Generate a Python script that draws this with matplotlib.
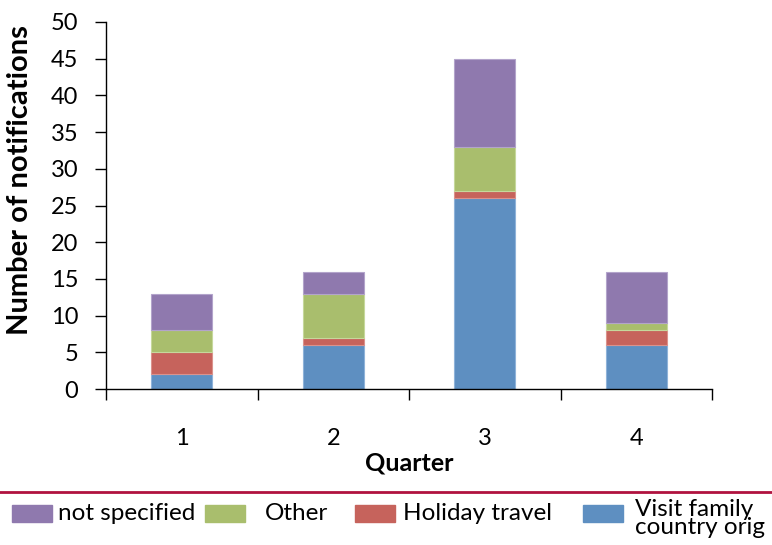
import matplotlib
matplotlib.use("Agg")
import matplotlib.pyplot as plt
from matplotlib.patches import Rectangle
from matplotlib.lines import Line2D
import numpy as np

quarters = ["1", "2", "3", "4"]
visit_family = [2, 6, 26, 6]
holiday_travel = [3, 1, 1, 2]
other = [3, 6, 6, 1]
not_specified = [5, 3, 12, 7]

series_names = ["Visit family\ncountry orig", "Holiday travel", "Other", "not specified"]
series_values = [visit_family, holiday_travel, other, not_specified]
colors = ["#5E8FC1", "#C6635C", "#A9BE6D", "#8F79AE"]
edges = ["#8FB3D9", "#DB928C", "#C6D89C", "#B3A4CB"]

yticks = list(range(0, 51, 5))

plt.rcParams['font.family'] = ['Lato', 'DejaVu Sans']

fig = plt.figure(figsize=(7.72, 5.45), dpi=100)
ax = fig.add_axes([106/772, 1-389/545, (712-106)/772, (389-22)/545])

x = np.arange(len(quarters))
bottom = np.zeros(len(quarters))
for vals, c, ec in zip(series_values, colors, edges):
    ax.bar(x, vals, width=0.4, bottom=bottom, color=c, edgecolor=ec, linewidth=0.8, zorder=2)
    bottom += np.array(vals)

ax.set_xlim(-0.5, len(quarters) - 0.5)
ax.set_ylim(0, 50)
ax.set_yticks(yticks)
ax.set_yticklabels([str(t) for t in yticks], fontsize=17)
ax.set_xticks(x)
ax.set_xticklabels(quarters, fontsize=17)
ax.set_xticks(np.arange(-0.5, len(quarters), 1.0), minor=True)
ax.tick_params(axis='x', which='major', length=0, pad=28)
ax.tick_params(axis='x', which='minor', length=8, width=1, direction='out')
ax.tick_params(axis='y', which='major', length=8, width=1, direction='out', pad=12)

for s in ['top', 'right']:
    ax.spines[s].set_visible(False)
for s in ['left', 'bottom']:
    ax.spines[s].set_linewidth(1)

ax.set_ylabel("Number of notifications", fontsize=21, fontweight='bold')
ax.yaxis.set_label_coords((33-106)/606, (389-180)/367)
ax.set_xlabel("Quarter", fontsize=18, fontweight='bold', labelpad=2)

# separator line
fig.add_artist(Line2D([0, 1], [1-492/545, 1-492/545], color="#B0123F", linewidth=2))

# legend (manual)
legend_order = [3, 2, 1, 0]
patch_x = [12, 205, 355, 583]
text_x = [58, 265, 403, 635]
for i, px, tx in zip(legend_order, patch_x, text_x):
    fig.add_artist(Rectangle((px/772, 1-522/545), 40/772, 17/545,
                             transform=fig.transFigure, color=colors[i]))
    if '\n' in series_names[i]:
        fig.text(tx/772, 1-499/545, series_names[i], fontsize=17.5, va='top',
                 ha='left', linespacing=0.82)
    else:
        fig.text(tx/772, 1-513/545, series_names[i], fontsize=17.5, va='center', ha='left')

fig.savefig("out.png", dpi=100)
